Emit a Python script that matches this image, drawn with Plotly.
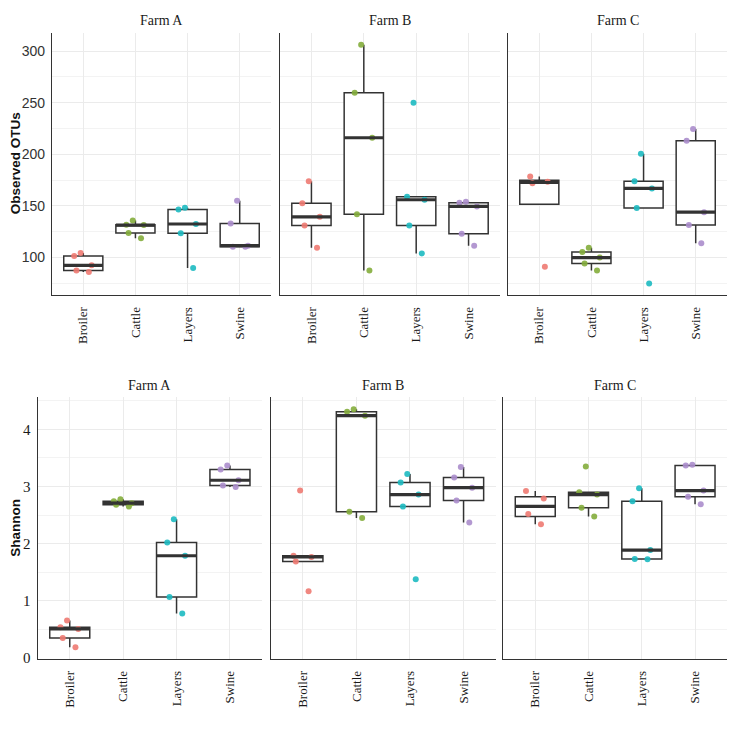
import numpy as np
import plotly.graph_objects as go

animals = ["Broiler", "Cattle", "Layers", "Swine"]
farms = ["Farm A", "Farm B", "Farm C"]
colors = ["#EE7A72", "#84AD3C", "#1DBAC1", "#AB8DCC"]

# ---------- data ----------
otus_farm_a = [[104.5, 101.5, 92.5, 87.5, 86], [135.9, 131.8, 131.5, 123.9, 118.8],
               [148.3, 146.5, 132.5, 123.5, 90], [155, 133, 111.5, 110.5, 110.5]]
otus_farm_b = [[174, 152.5, 139.5, 131, 109.5], [306, 259.5, 216, 142, 87.5],
               [250, 159, 156, 131, 104], [154, 153, 149.5, 123, 111.5]]
otus_farm_c = [[178.6, 173.5, 171.9, 91.1], [109.5, 105.3, 100, 94.3, 87.5],
               [200.5, 174, 167, 148, 75], [224.5, 213, 144, 131.5, 114]]

shannon_farm_a = [[0.66, 0.54, 0.51, 0.35, 0.19], [2.78, 2.745, 2.71, 2.68, 2.65],
                  [2.43, 2.02, 1.79, 1.07, 0.78], [3.37, 3.30, 3.11, 3.02, 2.99]]
shannon_farm_b = [[2.93, 1.79, 1.77, 1.69, 1.17], [4.35, 4.31, 4.24, 2.56, 2.45],
                  [3.22, 3.07, 2.86, 2.65, 1.38], [3.34, 3.16, 2.98, 2.755, 2.37]]
shannon_farm_c = [[2.92, 2.79, 2.52, 2.34], [3.35, 2.9, 2.86, 2.63, 2.475],
                  [2.97, 2.745, 1.89, 1.735, 1.73], [3.38, 3.37, 2.93, 2.82, 2.69]]

# the page body keeps its default 8px margin on every side,
# so a 720px figure fills the 736px window exactly
OFF = 8.0
FW = 720.0
SERIF = "Liberation Serif, Times New Roman, serif"
SANS = "Liberation Sans, Arial, sans-serif"


def fx(px):
    return (px - OFF) / FW


def fy(py):
    return 1 - (py - OFF) / FW


# panel boxes in window pixels: (left, right, top, bottom)
panels = [
    (otus_farm_a, (52, 271, 33, 298)),
    (otus_farm_b, (280, 500, 33, 298)),
    (otus_farm_c, (508, 727, 33, 298)),
    (shannon_farm_a, (37.7, 262, 401.7, 666)),
    (shannon_farm_b, (270.7, 495.7, 401.7, 666)),
    (shannon_farm_c, (503.3, 727, 401.7, 666)),
]


def box_stats(vals):
    v = np.array(vals, dtype=float)
    q1, med, q3 = np.percentile(v, [25, 50, 75])
    iqr = q3 - q1
    lo = v[v >= q1 - 1.5 * iqr].min()
    hi = v[v <= q3 + 1.5 * iqr].max()
    return q1, med, q3, min(lo, q1), max(hi, q3)


fig = go.Figure()
layout = {}

for k, (data, (l, r, t, b)) in enumerate(panels, start=1):
    xa = "x" if k == 1 else f"x{k}"
    ya = "y" if k == 1 else f"y{k}"
    top = k <= 3
    for i, (vals, col) in enumerate(zip(data, colors)):
        pos = i + 1
        q1, med, q3, lf, uf = box_stats(vals)
        fig.add_trace(go.Box(
            x=[pos], q1=[q1], median=[med], q3=[q3], lowerfence=[lf], upperfence=[uf],
            orientation="v", width=0.75, fillcolor="white", whiskerwidth=0,
            line=dict(color="#333333", width=1.5), boxpoints=False,
            xaxis=xa, yaxis=ya, showlegend=False, hoverinfo="skip"))
        fig.add_trace(go.Scatter(
            x=[pos - 0.375, pos + 0.375], y=[med, med], mode="lines",
            line=dict(color="#333333", width=3.2),
            xaxis=xa, yaxis=ya, showlegend=False, hoverinfo="skip"))
        fig.add_trace(go.Box(
            x=[pos] * len(vals), y=vals, orientation="v", width=0.75,
            boxpoints="all", jitter=0.55, pointpos=0,
            line=dict(width=0, color="rgba(0,0,0,0)"), fillcolor="rgba(0,0,0,0)",
            marker=dict(color=col, size=6, opacity=0.9),
            xaxis=xa, yaxis=ya, showlegend=False))

    sfx = "" if k == 1 else str(k)
    layout["xaxis" + sfx] = dict(
        domain=[fx(l), fx(r)], anchor=ya, range=[0.4, 4.6],
        tickvals=[1, 2, 3, 4], ticktext=animals, tickangle=-90,
        tickfont=dict(family=SERIF, size=13, color="#1a1a1a"),
        showgrid=True, gridcolor="#EBEBEB", gridwidth=1, zeroline=False,
        showline=True, linecolor="#333333", linewidth=1.2, ticks="",
        ticklabelstandoff=6)
    ydict = dict(
        domain=[fy(b), fy(t)], anchor=xa, zeroline=False,
        showgrid=True, gridcolor="#EBEBEB", gridwidth=1,
        showline=True, linecolor="#333333", linewidth=1.2, ticks="",
        ticklabelstandoff=3)
    if top:
        ydict.update(range=[64, 317.7], tickvals=[100, 150, 200, 250, 300],
                     tickfont=dict(family=SANS, size=14, color="#333333"),
                     minor=dict(showgrid=True, tickvals=[75, 125, 175, 225, 275, 325],
                                gridcolor="#F3F3F3", gridwidth=0.8))
    else:
        ydict.update(range=[-0.01, 4.56], tickvals=[0, 1, 2, 3, 4],
                     tickfont=dict(family=SERIF, size=15, color="#1a1a1a"),
                     minor=dict(showgrid=True, tickvals=[0.5, 1.5, 2.5, 3.5, 4.5],
                                gridcolor="#F3F3F3", gridwidth=0.8))
    if k not in (1, 4):
        ydict["showticklabels"] = False
    layout["yaxis" + sfx] = ydict

annotations = []
for k, (_, (l, r, t, b)) in enumerate(panels, start=1):
    annotations.append(dict(
        text=farms[(k - 1) % 3], x=fx((l + r) / 2), y=fy(t - 12),
        xref="paper", yref="paper", showarrow=False, xanchor="center", yanchor="middle",
        font=dict(family=SERIF, size=14, color="#1a1a1a")))

annotations.append(dict(
    text="<b>Observed OTUs</b>", x=fx(15.5), y=fy(165.5), xref="paper", yref="paper",
    textangle=-90, showarrow=False, xanchor="center", yanchor="middle", borderpad=0,
    font=dict(family=SANS, size=13.5, color="#111111")))
annotations.append(dict(
    text="<b>Shannon</b>", x=fx(15.5), y=fy(534), xref="paper", yref="paper",
    textangle=-90, showarrow=False, xanchor="center", yanchor="middle", borderpad=0,
    font=dict(family=SANS, size=13.5, color="#111111")))

fig.update_layout(
    width=720, height=720,
    margin=dict(l=0, r=0, t=0, b=0),
    paper_bgcolor="white", plot_bgcolor="white",
    boxmode="overlay",
    annotations=annotations,
    **layout)

fig.write_html("out.html")
